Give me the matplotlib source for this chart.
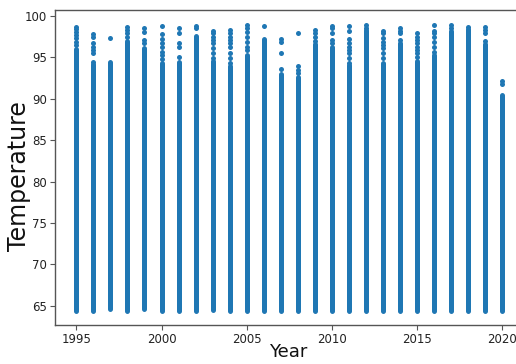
import matplotlib
matplotlib.use("Agg")
import matplotlib.pyplot as plt
import numpy as np

# ---- data ----
years = list(range(1995, 2021))
# lowest temperature per year
year_min = [64.4, 64.4, 64.6, 64.4, 64.6, 64.4, 64.4, 64.4, 64.5, 64.4,
            64.4, 64.4, 64.4, 64.4, 64.4, 64.4, 64.4, 64.4, 64.4, 64.4,
            64.4, 64.4, 64.4, 64.4, 64.4, 64.4]
# top of the densely packed run of observations per year
dense_top = [96.0, 94.2, 94.4, 97.0, 96.1, 94.3, 94.4, 97.6, 94.6, 93.9,
             95.3, 97.2, 93.0, 92.6, 96.6, 96.3, 94.1, 98.3, 94.3, 96.7,
             94.6, 95.3, 98.2, 98.4, 96.6, 90.5]
# isolated higher observations per year
high_points = [
    [98.7, 98.4, 98.1, 97.7, 97.3, 96.9, 96.5],                    # 1995
    [97.8, 97.5, 96.7, 96.3, 95.9, 95.5, 94.5],                    # 1996
    [97.3],                                                          # 1997
    [98.7, 98.3, 97.9, 97.5],                                        # 1998
    [98.5, 98.1, 97.1, 96.7],                                        # 1999
    [98.8, 97.8, 97.2, 96.7, 96.3, 95.7, 95.3, 94.8],               # 2000
    [98.6, 97.9, 96.7, 96.3, 95.1],                                  # 2001
    [98.8, 98.5],                                                    # 2002
    [98.2, 97.9, 97.5, 97.1, 96.7, 96.1, 95.5, 94.9],               # 2003
    [98.3, 97.9, 97.5, 97.1, 96.7, 96.3, 95.5, 94.9, 94.3],         # 2004
    [98.9, 98.5, 98.1, 97.5, 96.9, 96.3, 95.9],                     # 2005
    [98.8],                                                          # 2006
    [97.2, 96.8, 95.5, 93.6],                                        # 2007
    [97.9, 93.9, 93.5, 93.1],                                        # 2008
    [98.3, 97.9, 97.5, 97.0],                                        # 2009
    [98.8, 98.5, 97.9, 97.1, 96.7],                                  # 2010
    [98.8, 98.2, 97.2, 96.7, 96.3, 95.9, 95.5, 94.9, 94.3],         # 2011
    [98.9, 98.6],                                                    # 2012
    [98.2, 97.9, 97.3, 96.9, 96.5, 96.1, 95.5, 94.9],               # 2013
    [98.5, 98.2, 97.9, 97.1],                                        # 2014
    [98.0, 97.5, 97.1, 96.7, 96.3, 95.9, 95.5, 95.1],               # 2015
    [98.9, 98.2, 97.9, 97.5, 96.9, 96.3, 95.7],                     # 2016
    [98.9, 98.5],                                                    # 2017
    [98.7],                                                          # 2018
    [98.7, 98.3, 97.9, 97.0],                                        # 2019
    [92.2, 91.8],                                                    # 2020
]
x_ticks = [1995, 2000, 2005, 2010, 2015, 2020]
y_ticks = [65, 70, 75, 80, 85, 90, 95, 100]

color = "#1f77b4"
marker_d = 3.6  # points

fig = plt.figure(figsize=(5.16, 3.64), dpi=100)
ax = fig.add_axes([55 / 516, 39 / 364, 468.6 / 516, 315 / 364])

# dense runs
lc = ax.vlines(years, year_min, dense_top, colors=color, linewidth=marker_d)
lc.set_capstyle("round")

# isolated points
hx = [y for y, pts in zip(years, high_points) for _ in pts]
hy = [v for pts in high_points for v in pts]
ax.scatter(hx, hy, s=marker_d ** 2, color=color, linewidths=0)

ax.set_xlim(1993.75, 2021.25)
ax.set_ylim(62.68, 100.72)
ax.set_xticks(x_ticks)
ax.set_yticks(y_ticks)

for side in ("left", "bottom", "top", "right"):
    ax.spines[side].set_color("#555555")
    ax.spines[side].set_linewidth(1.0)

ax.tick_params(axis="both", labelsize=8.5, length=3.5, width=0.8,
               color="#555555", labelcolor="#222222", pad=2.5)

ax.set_ylabel("Temperature", fontsize=17, color="#111111")
ax.yaxis.set_label_coords((31 - 55) / 468.6, 0.473)
ax.set_xlabel("Year", fontsize=13, color="#111111")
ax.xaxis.set_label_coords(0.497, -(343 - 325) / 315)

fig.savefig("out.png", dpi=100)
